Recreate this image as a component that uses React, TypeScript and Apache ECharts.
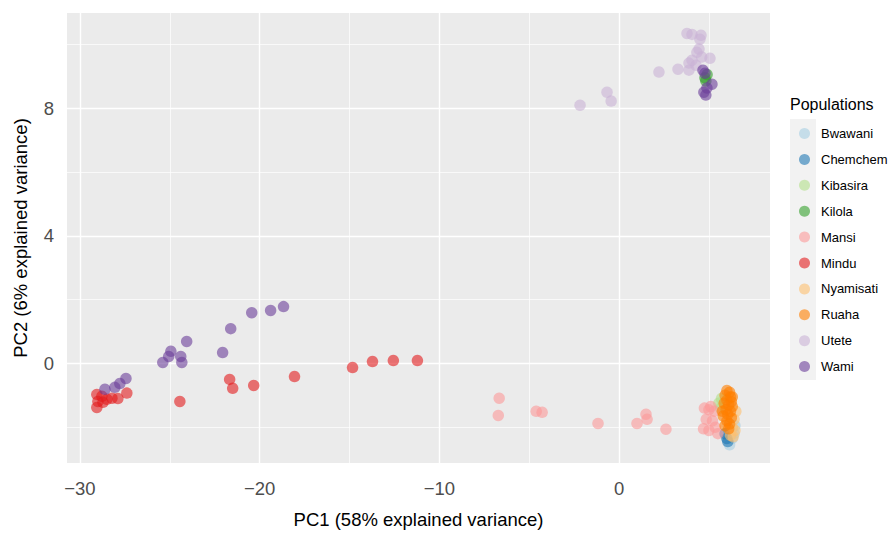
import React, { useEffect, useRef } from "react";
import * as echarts from "echarts";

const populations = ["Bwawani", "Chemchem", "Kibasira", "Kilola", "Mansi", "Mindu", "Nyamisati", "Ruaha", "Utete", "Wami"];
const popColors = [
  "rgba(166,206,227,0.75)",
  "rgba(31,120,180,0.75)",
  "rgba(178,223,138,0.75)",
  "rgba(51,160,44,0.75)",
  "rgba(251,154,153,0.75)",
  "rgba(227,26,28,0.75)",
  "rgba(253,191,111,0.75)",
  "rgba(255,127,0,0.75)",
  "rgba(202,178,214,0.75)",
  "rgba(106,61,154,0.75)",
];

const bwawani = [[6.15, -2.55], [6.4, -2.2], [6.45, -1.95], [6.3, -2.35]];
const chemchem = [[6.0, -2.35], [5.9, -2.2], [6.05, -2.45]];
const kibasira = [[5.55, -1.25], [5.65, -1.4], [5.7, -1.1]];
const kilola = [[4.78, 8.95], [4.83, 8.85], [4.9, 9.05]];
const mansi = [
  [-6.67, -1.09], [-6.72, -1.63], [-4.61, -1.5], [-4.28, -1.53], [-1.17, -1.88], [1.0, -1.88],
  [1.5, -1.59], [1.56, -1.75], [2.61, -2.06], [4.75, -1.4], [5.0, -1.45], [5.3, -1.5],
  [4.85, -1.75], [5.2, -1.8], [4.7, -2.05], [5.0, -2.1], [5.35, -2.0], [5.5, -2.2], [5.1, -1.35],
];
const mindu = [
  [-18.06, -0.41], [-20.33, -0.69], [-21.67, -0.5], [-21.5, -0.78], [-24.44, -1.19], [-27.39, -0.93],
  [-27.89, -1.1], [-28.22, -1.09], [-28.5, -1.12], [-28.78, -1.03], [-29.06, -0.97], [-29.0, -1.19],
  [-28.72, -1.22], [-29.06, -1.38], [-14.83, -0.13], [-13.72, 0.06], [-12.56, 0.09], [-11.22, 0.09],
];
const nyamisati = [[6.3, -2.0], [6.45, -2.1], [6.2, -2.25], [6.4, -1.75], [6.35, -2.3], [6.5, -1.5]];
const ruaha = [
  [6.0, -0.85], [6.15, -0.9], [5.9, -1.0], [6.2, -1.05], [6.0, -1.15], [6.25, -1.2], [5.85, -1.25],
  [6.1, -1.3], [6.3, -1.35], [5.95, -1.45], [6.2, -1.5], [6.05, -1.6], [5.8, -1.65], [6.25, -1.7],
  [6.0, -1.8], [6.15, -1.9], [5.9, -1.95], [6.1, -2.05], [6.3, -1.05], [5.75, -1.5],
];
const utete = [
  [3.78, 10.34], [4.06, 10.31], [4.56, 10.28], [4.5, 10.16], [4.33, 9.75], [4.45, 9.85], [5.06, 9.56],
  [3.89, 9.41], [4.28, 9.34], [3.89, 9.19], [3.28, 9.22], [2.22, 9.13], [-0.67, 8.5], [-0.44, 8.22],
  [-2.17, 8.09], [4.06, 9.5], [4.6, 9.6],
];
const wami = [
  [-18.67, 1.78], [-19.39, 1.66], [-20.44, 1.59], [-21.61, 1.09], [-22.06, 0.34], [-24.06, 0.69],
  [-24.94, 0.38], [-25.06, 0.22], [-24.39, 0.22], [-24.33, 0.03], [-25.39, 0.03], [-27.44, -0.47],
  [-27.78, -0.63], [-28.06, -0.75], [-28.61, -0.81], [4.67, 9.19], [4.78, 9.09], [5.17, 8.75],
  [4.83, 8.41], [4.89, 8.63], [4.72, 8.5],
];
const popData = [bwawani, chemchem, kibasira, kilola, mansi, mindu, nyamisati, ruaha, utete, wami];

const xTicks = [-30, -20, -10, 0];
const xMinor = [-25, -15, -5, 5];
const yTicks = [0, 4, 8];
const yMinor = [-2, 2, 6, 10];

const FONT = "'Liberation Sans', Arial, sans-serif";
const fmt = (v: number) => (v < 0 ? "\u2212" + Math.abs(v) : String(v));

export default function App() {
  const ref = useRef<HTMLDivElement>(null);
  useEffect(() => {
    document.body.style.margin = "0";
    if (!ref.current) return;
    const chart = echarts.init(ref.current, undefined, { renderer: "svg" });
    const gridLines = [
      ...xTicks.map((v) => ({ xAxis: v, lineStyle: { width: 1.4 } })),
      ...xMinor.map((v) => ({ xAxis: v, lineStyle: { width: 0.7 } })),
      ...yTicks.map((v) => ({ yAxis: v, lineStyle: { width: 1.4 } })),
      ...yMinor.map((v) => ({ yAxis: v, lineStyle: { width: 0.7 } })),
    ];
    const series: any[] = populations.map((name, i) => ({
      type: "scatter",
      name,
      data: popData[i],
      symbol: "circle",
      symbolSize: 11.5,
      itemStyle: { color: popColors[i] },
      z: 2,
      silent: true,
    }));
    series[0].markLine = {
      silent: true,
      symbol: ["none", "none"],
      label: { show: false },
      z: 1,
      lineStyle: { color: "#FFFFFF", type: "solid" },
      emphasis: { disabled: true },
      data: gridLines,
    };
    chart.setOption({
      animation: false,
      backgroundColor: "#FFFFFF",
      textStyle: { fontFamily: FONT },
      title: {
        text: "Populations",
        left: 790,
        top: 96,
        padding: 0,
        textStyle: { fontSize: 16, fontWeight: "normal", color: "#000", fontFamily: FONT },
      },
      graphic: [
        { type: "rect", left: 790, top: 119, shape: { width: 26, height: 261 }, style: { fill: "#F2F2F2" }, z: -1 },
      ],
      legend: {
        orient: "vertical",
        left: 799,
        top: 127,
        padding: 0,
        itemWidth: 23,
        itemHeight: 11,
        itemGap: 12.9,
        icon: "circle",
        selectedMode: false,
        data: populations,
        textStyle: { fontSize: 13, color: "#000", lineHeight: 13, fontFamily: FONT },
      },
      grid: {
        left: 67,
        top: 13,
        width: 703,
        height: 451,
        show: true,
        backgroundColor: "#EBEBEB",
        borderWidth: 0,
      },
      xAxis: {
        type: "value",
        min: -30.72,
        max: 8.4,
        name: "PC1 (58% explained variance)",
        nameLocation: "middle",
        nameGap: 47,
        nameTextStyle: { fontSize: 18.5, color: "#000", fontFamily: FONT },
        axisLine: { show: false },
        axisTick: { show: true, length: 4, lineStyle: { color: "#333333" }, customValues: xTicks },
        axisLabel: { customValues: xTicks, fontSize: 18.5, color: "#4D4D4D", margin: 16, formatter: fmt, fontFamily: FONT },
        splitLine: { show: false },
      },
      yAxis: {
        type: "value",
        min: -3.12,
        max: 10.98,
        name: "PC2 (6% explained variance)",
        nameLocation: "middle",
        nameGap: 37,
        nameTextStyle: { fontSize: 18.5, color: "#000", fontFamily: FONT },
        axisLine: { show: false },
        axisTick: { show: true, length: 4, lineStyle: { color: "#333333" }, customValues: yTicks },
        axisLabel: { customValues: yTicks, fontSize: 18.5, color: "#4D4D4D", margin: 13, formatter: fmt, fontFamily: FONT },
        splitLine: { show: false },
      },
      series,
    });
    return () => chart.dispose();
  }, []);
  return <div ref={ref} style={{ width: 893, height: 534 }} />;
}
